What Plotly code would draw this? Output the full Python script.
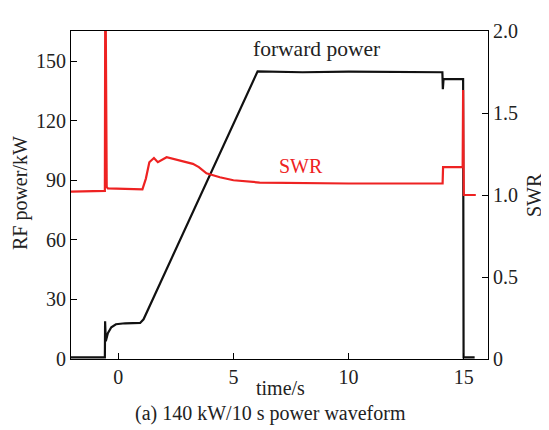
import plotly.graph_objects as go

# Forward power (kW) breakpoints
fwd_t = [-2.05, -0.58, -0.57, -0.54, -0.45, -0.3, -0.1, 0.3, 0.95, 1.1, 6.05, 8.0, 10.0, 12.0, 14.07, 14.09, 14.12, 14.97, 14.99, 15.47]
fwd_p = [0.8, 0.8, 19.0, 9.0, 13.0, 16.0, 17.5, 18.0, 18.2, 20.0, 145.0, 144.5, 144.8, 144.5, 144.5, 136.0, 141.0, 141.0, 0.8, 0.8]

# SWR breakpoints
swr_t = [-2.05, -0.58, -0.56, -0.52, -0.5, -0.45, 1.05, 1.2, 1.35, 1.55, 1.72, 2.1, 2.5, 3.24, 3.5, 3.83, 4.41, 5.0, 6.14, 10.0, 14.08, 14.1, 14.95, 14.97, 15.0, 15.52]
swr_v = [1.02, 1.025, 2.5, 1.45, 1.05, 1.04, 1.035, 1.1, 1.2, 1.226, 1.2, 1.23, 1.215, 1.19, 1.17, 1.132, 1.108, 1.09, 1.076, 1.07, 1.07, 1.17, 1.17, 1.64, 1.0, 1.0]

x_ticks = [0, 5, 10, 15]
y_ticks = [0, 30, 60, 90, 120, 150]
y2_ticks = [0, 0.5, 1.0, 1.5, 2.0]
y2_labels = ["0", "0.5", "1.0", "1.5", "2.0"]

FONT = "Liberation Serif"
fig = go.Figure()
fig.add_trace(go.Scatter(x=fwd_t, y=fwd_p, mode="lines", line=dict(color="#111111", width=2.2), showlegend=False))
fig.add_trace(go.Scatter(x=swr_t, y=swr_v, mode="lines", line=dict(color="#ee2222", width=2.2), yaxis="y2", showlegend=False))

OFF = 8  # default page body margin
L, R, T, B = 71, 488, 25, 359   # plot area in page pixels
W, H = 549 - OFF, 430 - OFF
def px(x): return (x - L) / (R - L)
def py(y): return (B - y) / (B - T)

axis_common = dict(showline=True, linecolor="black", linewidth=1.2, ticks="inside", ticklen=6,
                   tickcolor="black", showgrid=False, zeroline=False,
                   tickfont=dict(family=FONT, size=20, color="#222"))
fig.update_layout(
    width=W, height=H,
    margin=dict(l=L - OFF, r=W - (R - OFF), t=T - OFF, b=H - (B - OFF), pad=0),
    plot_bgcolor="white", paper_bgcolor="white",
    xaxis=dict(range=[-2.05, 16.05], tickvals=x_ticks, mirror=True, **axis_common),
    yaxis=dict(range=[0, 165.3], tickvals=y_ticks, **axis_common),
    yaxis2=dict(range=[0, 2.0], tickvals=y2_ticks, ticktext=y2_labels, overlaying="y", side="right", **axis_common),
    font=dict(family=FONT, size=20, color="#222"),
)

ann = [
    dict(text="forward power", x=px(316), y=py(43), color="#222", angle=0, size=21.5),
    dict(text="SWR", x=px(301), y=py(162), color="#ee2222", angle=0, size=20),
    dict(text="RF power/kW", x=px(20), y=py(190), color="#222", angle=-90, size=20),
    dict(text="SWR", x=px(534), y=py(192), color="#222", angle=-90, size=20),
    dict(text="time/s", x=px(280), y=py(389), color="#222", angle=0, size=20),
    dict(text="(a) 140 kW/10 s power waveform", x=px(270), y=py(415), color="#222", angle=0, size=20),
]
for a in ann:
    fig.add_annotation(text=a["text"], x=a["x"], y=a["y"], xref="paper", yref="paper",
                       showarrow=False, textangle=a["angle"], xanchor="center", yanchor="middle",
                       font=dict(family=FONT, size=a["size"], color=a["color"]))

fig.write_html("out.html")
